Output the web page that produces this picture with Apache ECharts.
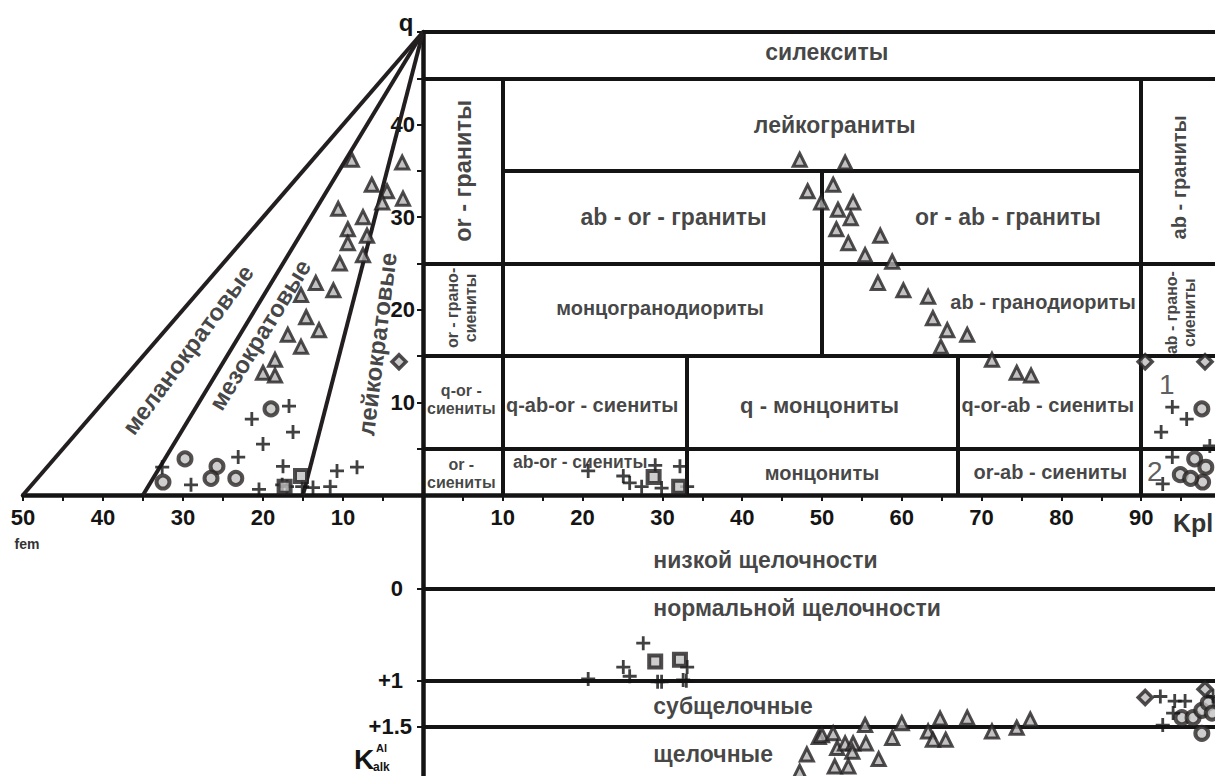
<!DOCTYPE html>
<html>
<head>
<meta charset="utf-8">
<script src="https://cdn.jsdelivr.net/npm/echarts@6/dist/echarts.min.js"></script>
<style>
  html, body { margin: 0; padding: 0; background: #fff; }
  #chart { width: 1215px; height: 776px; }
</style>
</head>
<body>
<div id="chart"></div>
<script>
// q–fem fan (left), Kpl–q classification field (upper right), Kpl–K(alk) field (lower right)

// ---- classification boundaries ----
const qApex = 50;
const fanEnds = [50, 35, 15];                 // fem where the melano/meso/leuco lines reach q = 0
const qBoundaries = [[50, 0, 100], [45, 0, 100], [35, 10, 90], [25, 0, 100], [15, 0, 100], [5, 0, 100]]; // [q, Kpl from, Kpl to]
const kplBoundaries = [[10, 0, 45], [90, 0, 45], [50, 15, 35], [33, 0, 15], [67, 0, 15]];               // [Kpl, q from, q to]
const alkLevels = [0, 1, 1.5];
const alkTickLabels = ['0', '+1', '+1.5'];

// ---- samples: fem–q ----
const femTriangles = [[8.9, 36.2], [2.6, 35.9], [6.4, 33.5], [4.5, 32.8], [5.1, 31.6], [2.5, 32.0], [10.6, 30.9], [7.5, 30.0],
  [9.4, 28.7], [7.0, 28.0], [9.4, 27.2], [7.5, 25.9], [10.4, 25.0], [13.4, 22.9], [11.2, 22.1], [15.25, 21.6], [14.6, 19.2],
  [13.0, 17.8], [16.9, 17.3], [15.25, 16.0], [18.5, 14.6], [20.0, 13.2], [18.5, 12.9]];
const femCircles = [[19.0, 9.3], [29.75, 3.9], [25.75, 3.1], [32.5, 1.4], [26.5, 1.8], [23.4, 1.8]];
const femCrosses = [[16.75, 9.6], [21.4, 8.2], [16.25, 6.8], [20.0, 5.5], [23.1, 4.1], [32.6, 3.0], [17.5, 3.1], [10.75, 2.6],
  [8.25, 3.0], [29.0, 1.1], [20.5, 0.6], [17.6, 1.1], [17.0, 0.9], [13.75, 0.8], [11.6, 0.9], [15.1, 0.9]];
const femSquares = [[15.25, 2.05], [17.3, 0.9]];
const femDiamonds = [[3.0, 14.4]];

// ---- samples: Kpl–q ----
const kplTriangles = [[47.2, 36.2], [48.2, 32.8], [49.9, 31.6], [52.9, 35.9], [51.4, 33.5], [53.9, 31.6], [52.0, 30.8],
  [53.6, 29.9], [51.8, 28.7], [57.3, 28.0], [53.3, 27.2], [55.4, 25.9], [58.8, 25.2], [57.0, 22.9], [60.2, 22.1],
  [63.3, 21.4], [63.9, 19.1], [65.7, 17.8], [68.2, 17.3], [64.9, 16.0], [71.3, 14.6], [74.4, 13.2], [76.2, 12.9]];
const kplCircles = [[97.6, 9.3], [96.7, 3.9], [98.1, 3.0], [94.9, 2.2], [97.7, 1.4], [96.2, 1.8]];
const kplCrosses = [[93.9, 9.5], [95.7, 8.2], [92.5, 6.8], [98.6, 5.3], [93.9, 4.1], [92.7, 1.2],
  [20.7, 2.6], [25.1, 2.05], [25.9, 1.3], [27.4, 0.9], [29.1, 3.2], [32.2, 3.1], [29.9, 0.75], [33.1, 0.9]];
const kplSquares = [[28.9, 1.95], [32.1, 0.9]];
const kplDiamonds = [[90.5, 14.4], [98.0, 14.4]];

// ---- samples: Kpl–K(alk) ----
const alkTriangles = [[47.2, 1.99], [48.1, 1.80], [49.6, 1.61], [50.0, 1.59], [51.4, 1.57], [51.9, 1.73], [52.9, 1.68],
  [53.9, 1.68], [53.8, 1.77], [55.5, 1.68], [55.4, 1.48], [51.6, 1.93], [53.3, 1.93], [57.1, 1.85], [58.8, 1.62],
  [60.0, 1.46], [63.3, 1.55], [63.9, 1.64], [65.5, 1.64], [64.8, 1.41], [68.2, 1.40], [71.3, 1.55], [74.4, 1.51], [76.1, 1.42]];
const alkCircles = [[95.1, 1.40], [96.5, 1.40], [97.6, 1.32], [98.4, 1.24], [97.6, 1.57], [98.9, 1.35]];
const alkCrosses = [[27.6, 0.59], [25.1, 0.85], [25.9, 0.95], [20.7, 0.98], [29.4, 1.01], [29.9, 1.01], [32.6, 0.99], [33.0, 1.0],
  [33.1, 0.85], [92.4, 1.17], [94.2, 1.22], [95.5, 1.22], [94.0, 1.35], [92.7, 1.48], [99.0, 1.17]];
const alkSquares = [[29.1, 0.79], [32.2, 0.77]];
const alkDiamonds = [[90.5, 1.18], [98.0, 1.09]];

// ---- field names ----
const largeFieldNames = [['силекситы', 50.6, 47.8], ['лейкограниты', 51.6, 40.0], ['ab - or - граниты', 31.4, 30.0],
  ['or - ab - граниты', 73.3, 30.0]];
const fieldNames = [['монцогранодиориты', 29.7, 20.2], ['ab - гранодиориты', 77.7, 20.8],
  ['q-ab-or - сиениты', 21.2, 9.7], ['q-or-ab - сиениты', 78.3, 9.7],
  ['монцониты', 50.0, 2.4], ['or-ab - сиениты', 78.6, 2.5]];
const quartzMonzoniteName = [['q - монцониты', 49.7, 9.7]];
const smallFieldNames = [['q-or -\nсиениты', 4.8, 10.3], ['or -\nсиениты', 4.8, 2.3]];
const albiteOrthoclaseName = [['ab-or - сиениты', 19.7, 3.6]];
const orGraniteName = [['or - граниты', 5.0, 35.0, 90]];
const abGraniteName = [['ab - граниты', 94.7, 34.3, 90]];
const granosyeniteNames = [['or - грано-\nсиениты', 4.8, 20.2, 90], ['ab - грано-\nсиениты', 94.9, 19.7, 90]];
const groupNumbers = [['1', 93.2, 11.9], ['2', 91.7, 2.5]];
const fanNames = [['меланократовые', 29.4, 15.7, 53.6], ['мезократовые', 20.4, 17.3, 58.3], ['лейкократовые', 5.75, 16.3, 82.8]];
const alkNames = [['низкой щелочности', -0.315], ['нормальной щелочности', 0.207], ['субщелочные', 1.27], ['щелочные', 1.80]];
const alkNameKpl = 28.8;

// ---- drawing ----
const INK = '#141414';
const FONT = 'Arial, "Liberation Sans", sans-serif';
const KPL_MAX = 99.25;       // Kpl reached at the right edge of the field
const chart = echarts.init(document.getElementById('chart'), null, { renderer: 'svg' });

const markStyles = {
  triangle: { symbol: 'triangle', size: 13, item: { color: '#b2b2b2', borderColor: '#231f20', borderWidth: 3 } },
  circle:   { symbol: 'circle', size: 13, item: { color: '#c2c2c2', borderColor: '#2a2626', borderWidth: 4 } },
  square:   { symbol: 'rect', size: 12, item: { color: '#c2c2c2', borderColor: '#231f20', borderWidth: 4 } },
  diamond:  { symbol: 'diamond', size: 14, item: { color: '#bdbdbd', borderColor: '#231f20', borderWidth: 3.5 } },
  cross:    { symbol: 'path://M4,0H6V4H10V6H6V10H4V6H0V4H4Z', size: 14, item: { color: '#111' } }
};

function marks(data, kind, axis) {
  const s = markStyles[kind];
  return { type: 'scatter', xAxisIndex: axis, yAxisIndex: axis, data: data, symbol: s.symbol,
    symbolSize: s.size, itemStyle: s.item, z: 5, silent: true, animation: false };
}

function segments(coords, axis, width, color) {
  return { type: 'lines', coordinateSystem: 'cartesian2d', xAxisIndex: axis, yAxisIndex: axis,
    data: coords.map(c => ({ coords: c })), lineStyle: { color: color, width: width, opacity: 1 },
    z: 2, silent: true, animation: false };
}

function names(items, axis, label) {
  return { type: 'scatter', xAxisIndex: axis, yAxisIndex: axis, symbolSize: 1, z: 3, silent: true, animation: false,
    itemStyle: { color: 'rgba(0,0,0,0)' },
    data: items.map(it => ({ name: it[0], value: [it[1], it[2]], label: it.length > 3 ? { rotate: it[3] } : {} })),
    label: Object.assign({ show: true, position: 'inside', formatter: '{b}', color: INK, fontFamily: FONT,
      fontWeight: 'bold', fontSize: 20 }, label) };
}

const tickFont = { fontSize: 22, fontWeight: 'bold', color: INK, fontFamily: FONT };
const axisLine = { show: true, onZero: false, lineStyle: { color: INK, width: 4.5 } };
const axisTick = { show: true, length: 6, lineStyle: { color: INK, width: 2 } };

const option = {
  backgroundColor: '#fff',
  animation: false,
  grid: [
    { left: 23, top: 32, width: 400, height: 463 },
    { left: 423, top: 32, width: 792, height: 463 },
    { left: 423, top: 495, width: 792, height: 281 }
  ],
  xAxis: [
    { gridIndex: 0, type: 'value', min: 0, max: 50, interval: 5, inverse: true, axisLine, axisTick, splitLine: { show: false },
      axisLabel: Object.assign({ margin: 11, formatter: v => (v % 10 === 0 && v > 0) ? String(v) : '' }, tickFont) },
    { gridIndex: 1, type: 'value', min: 0, max: KPL_MAX, interval: 5, axisLine, axisTick, splitLine: { show: false },
      axisLabel: Object.assign({ margin: 11, showMaxLabel: false,
        formatter: v => (v % 10 === 0 && v > 0 && v < 100) ? String(v) : '' }, tickFont) },
    { gridIndex: 2, type: 'value', min: 0, max: KPL_MAX, show: false }
  ],
  yAxis: [
    { gridIndex: 0, type: 'value', min: 0, max: 50, show: false },
    { gridIndex: 1, type: 'value', min: 0, max: 50, interval: 5, axisLine, axisTick, splitLine: { show: false },
      axisLabel: Object.assign({ margin: 8, formatter: v => (v % 10 === 0 && v > 0 && v < 50) ? String(v) : '' }, tickFont) },
    { gridIndex: 2, type: 'value', min: -1.02, max: 2.034, inverse: true, axisLine, splitLine: { show: false },
      axisTick: Object.assign({ customValues: alkLevels }, axisTick),
      axisLabel: Object.assign({ margin: 11, customValues: alkLevels,
        formatter: v => {
          const t = alkTickLabels[alkLevels.indexOf(v)];
          return t.length < 3 ? '{w|' + t + '}' : t;
        },
        rich: { w: { fontSize: 22, fontWeight: 'bold', color: INK, fontFamily: FONT, padding: [0, 9, 0, 0] } } }, tickFont) }
  ],
  graphic: [
    { type: 'text', x: 406, y: 22, style: { text: 'q', font: 'bold 24px ' + FONT, fill: INK, align: 'center', verticalAlign: 'middle' } },
    { type: 'text', x: 27, y: 544, style: { text: 'fem', font: 'bold 14px ' + FONT, fill: '#333', align: 'center', verticalAlign: 'middle' } },
    { type: 'text', x: 1173, y: 523, style: { text: 'Kpl', font: 'bold 25px ' + FONT, fill: '#333', align: 'left', verticalAlign: 'middle' } },
    { type: 'text', x: 354, y: 759, style: { text: 'K', font: 'bold 28px ' + FONT, fill: INK, align: 'left', verticalAlign: 'middle' } },
    { type: 'text', x: 376, y: 748, style: { text: 'Al', font: 'bold 11px ' + FONT, fill: INK, align: 'left', verticalAlign: 'middle' } },
    { type: 'text', x: 373, y: 767, style: { text: 'alk', font: 'bold 12px ' + FONT, fill: INK, align: 'left', verticalAlign: 'middle' } }
  ],
  series: [
    segments(fanEnds.map(f => [[0, qApex], [f, 0]]), 0, 4, '#231f20'),
    segments(qBoundaries.map(b => [[b[1], b[0]], [b[2], b[0]]]), 1, 4, INK),
    segments(kplBoundaries.map(b => [[b[0], b[1]], [b[0], b[2]]]), 1, 4, INK),
    segments(alkLevels.map(k => [[0, k], [100, k]]), 2, 4, INK),

    names(fanNames, 0, { fontSize: 24 }),
    names(largeFieldNames, 1, { fontSize: 23 }),
    names(fieldNames, 1, { fontSize: 20 }),
    names(quartzMonzoniteName, 1, { fontSize: 22 }),
    names(smallFieldNames, 1, { fontSize: 16, lineHeight: 18 }),
    names(albiteOrthoclaseName, 1, { fontSize: 17.5 }),
    names(orGraniteName, 1, { fontSize: 23.5 }),
    names(abGraniteName, 1, { fontSize: 20 }),
    names(granosyeniteNames, 1, { fontSize: 16, lineHeight: 18 }),
    names(groupNumbers, 1, { fontSize: 28, fontWeight: 'normal', color: '#333' }),
    names(alkNames.map(a => [a[0], alkNameKpl, a[1]]), 2, { fontSize: 23, position: 'right', distance: 0 }),

    marks(femTriangles, 'triangle', 0), marks(femCircles, 'circle', 0), marks(femCrosses, 'cross', 0),
    marks(femSquares, 'square', 0), marks(femDiamonds, 'diamond', 0),
    marks(kplTriangles, 'triangle', 1), marks(kplCircles, 'circle', 1), marks(kplCrosses, 'cross', 1),
    marks(kplSquares, 'square', 1), marks(kplDiamonds, 'diamond', 1),
    marks(alkTriangles, 'triangle', 2), marks(alkCircles, 'circle', 2), marks(alkCrosses, 'cross', 2),
    marks(alkSquares, 'square', 2), marks(alkDiamonds, 'diamond', 2)
  ]
};
chart.setOption(option);
</script>
</body>
</html>
